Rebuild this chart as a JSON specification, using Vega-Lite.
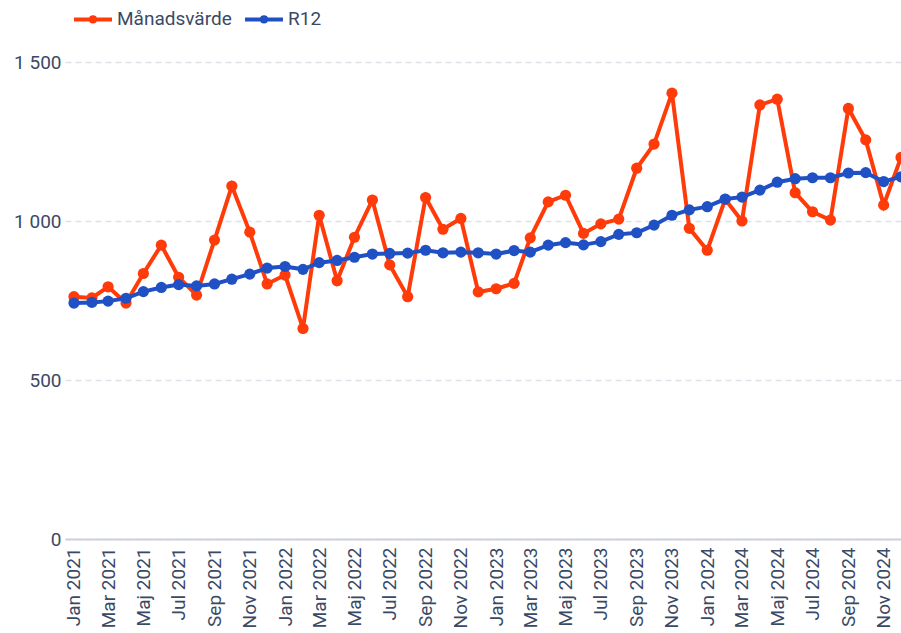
{
  "$schema": "https://vega.github.io/schema/vega-lite/v6.json",
  "width": 836,
  "height": 477,
  "autosize": {"type": "none"},
  "padding": {"left": 65, "top": 62, "right": 0, "bottom": 94},
  "config": {
    "view": {"stroke": null},
    "font": "Roboto",
    "axis": {"labelFont": "Roboto", "labelFontSize": 19, "labelColor": "#3a4a66"}
  },
  "datasets": {
    "rows": [
      {"m": "2021-01-01", "s": "Månadsvärde", "v": 762},
      {"m": "2021-02-01", "s": "Månadsvärde", "v": 758},
      {"m": "2021-03-01", "s": "Månadsvärde", "v": 793},
      {"m": "2021-04-01", "s": "Månadsvärde", "v": 742},
      {"m": "2021-05-01", "s": "Månadsvärde", "v": 835},
      {"m": "2021-06-01", "s": "Månadsvärde", "v": 924},
      {"m": "2021-07-01", "s": "Månadsvärde", "v": 823},
      {"m": "2021-08-01", "s": "Månadsvärde", "v": 767},
      {"m": "2021-09-01", "s": "Månadsvärde", "v": 940},
      {"m": "2021-10-01", "s": "Månadsvärde", "v": 1110},
      {"m": "2021-11-01", "s": "Månadsvärde", "v": 965},
      {"m": "2021-12-01", "s": "Månadsvärde", "v": 802},
      {"m": "2022-01-01", "s": "Månadsvärde", "v": 830},
      {"m": "2022-02-01", "s": "Månadsvärde", "v": 662},
      {"m": "2022-03-01", "s": "Månadsvärde", "v": 1018},
      {"m": "2022-04-01", "s": "Månadsvärde", "v": 812},
      {"m": "2022-05-01", "s": "Månadsvärde", "v": 949},
      {"m": "2022-06-01", "s": "Månadsvärde", "v": 1066},
      {"m": "2022-07-01", "s": "Månadsvärde", "v": 862},
      {"m": "2022-08-01", "s": "Månadsvärde", "v": 762},
      {"m": "2022-09-01", "s": "Månadsvärde", "v": 1074},
      {"m": "2022-10-01", "s": "Månadsvärde", "v": 974},
      {"m": "2022-11-01", "s": "Månadsvärde", "v": 1008},
      {"m": "2022-12-01", "s": "Månadsvärde", "v": 777},
      {"m": "2023-01-01", "s": "Månadsvärde", "v": 787},
      {"m": "2023-02-01", "s": "Månadsvärde", "v": 804},
      {"m": "2023-03-01", "s": "Månadsvärde", "v": 947},
      {"m": "2023-04-01", "s": "Månadsvärde", "v": 1060},
      {"m": "2023-05-01", "s": "Månadsvärde", "v": 1081},
      {"m": "2023-06-01", "s": "Månadsvärde", "v": 961},
      {"m": "2023-07-01", "s": "Månadsvärde", "v": 991},
      {"m": "2023-08-01", "s": "Månadsvärde", "v": 1006},
      {"m": "2023-09-01", "s": "Månadsvärde", "v": 1166},
      {"m": "2023-10-01", "s": "Månadsvärde", "v": 1242},
      {"m": "2023-11-01", "s": "Månadsvärde", "v": 1402},
      {"m": "2023-12-01", "s": "Månadsvärde", "v": 977},
      {"m": "2024-01-01", "s": "Månadsvärde", "v": 908},
      {"m": "2024-02-01", "s": "Månadsvärde", "v": 1068},
      {"m": "2024-03-01", "s": "Månadsvärde", "v": 1000},
      {"m": "2024-04-01", "s": "Månadsvärde", "v": 1365},
      {"m": "2024-05-01", "s": "Månadsvärde", "v": 1383},
      {"m": "2024-06-01", "s": "Månadsvärde", "v": 1089},
      {"m": "2024-07-01", "s": "Månadsvärde", "v": 1029},
      {"m": "2024-08-01", "s": "Månadsvärde", "v": 1003},
      {"m": "2024-09-01", "s": "Månadsvärde", "v": 1354},
      {"m": "2024-10-01", "s": "Månadsvärde", "v": 1255},
      {"m": "2024-11-01", "s": "Månadsvärde", "v": 1050},
      {"m": "2024-12-01", "s": "Månadsvärde", "v": 1200},
      {"m": "2021-01-01", "s": "R12", "v": 742},
      {"m": "2021-02-01", "s": "R12", "v": 744},
      {"m": "2021-03-01", "s": "R12", "v": 748},
      {"m": "2021-04-01", "s": "R12", "v": 757},
      {"m": "2021-05-01", "s": "R12", "v": 778},
      {"m": "2021-06-01", "s": "R12", "v": 791},
      {"m": "2021-07-01", "s": "R12", "v": 800},
      {"m": "2021-08-01", "s": "R12", "v": 796},
      {"m": "2021-09-01", "s": "R12", "v": 802},
      {"m": "2021-10-01", "s": "R12", "v": 817},
      {"m": "2021-11-01", "s": "R12", "v": 833},
      {"m": "2021-12-01", "s": "R12", "v": 852},
      {"m": "2022-01-01", "s": "R12", "v": 857},
      {"m": "2022-02-01", "s": "R12", "v": 848},
      {"m": "2022-03-01", "s": "R12", "v": 869},
      {"m": "2022-04-01", "s": "R12", "v": 876},
      {"m": "2022-05-01", "s": "R12", "v": 886},
      {"m": "2022-06-01", "s": "R12", "v": 896},
      {"m": "2022-07-01", "s": "R12", "v": 898},
      {"m": "2022-08-01", "s": "R12", "v": 899},
      {"m": "2022-09-01", "s": "R12", "v": 908},
      {"m": "2022-10-01", "s": "R12", "v": 900},
      {"m": "2022-11-01", "s": "R12", "v": 902},
      {"m": "2022-12-01", "s": "R12", "v": 900},
      {"m": "2023-01-01", "s": "R12", "v": 896},
      {"m": "2023-02-01", "s": "R12", "v": 907},
      {"m": "2023-03-01", "s": "R12", "v": 902},
      {"m": "2023-04-01", "s": "R12", "v": 924},
      {"m": "2023-05-01", "s": "R12", "v": 932},
      {"m": "2023-06-01", "s": "R12", "v": 925},
      {"m": "2023-07-01", "s": "R12", "v": 935},
      {"m": "2023-08-01", "s": "R12", "v": 958},
      {"m": "2023-09-01", "s": "R12", "v": 963},
      {"m": "2023-10-01", "s": "R12", "v": 987},
      {"m": "2023-11-01", "s": "R12", "v": 1018},
      {"m": "2023-12-01", "s": "R12", "v": 1035},
      {"m": "2024-01-01", "s": "R12", "v": 1045},
      {"m": "2024-02-01", "s": "R12", "v": 1069},
      {"m": "2024-03-01", "s": "R12", "v": 1075},
      {"m": "2024-04-01", "s": "R12", "v": 1097},
      {"m": "2024-05-01", "s": "R12", "v": 1122},
      {"m": "2024-06-01", "s": "R12", "v": 1133},
      {"m": "2024-07-01", "s": "R12", "v": 1136},
      {"m": "2024-08-01", "s": "R12", "v": 1136},
      {"m": "2024-09-01", "s": "R12", "v": 1151},
      {"m": "2024-10-01", "s": "R12", "v": 1152},
      {"m": "2024-11-01", "s": "R12", "v": 1124},
      {"m": "2024-12-01", "s": "R12", "v": 1139}
    ]
  },
  "data": {"name": "rows"},
  "encoding": {
    "x": {
      "field": "m",
      "type": "temporal",
      "title": null,
      "scale": {"type": "utc", "domain": [1608120000000, 1733011200000]},
      "axis": {
        "tickCount": {"interval": "month", "step": 2},
        "labelExpr": "['Jan','Feb','Mar','Apr','Maj','Jun','Jul','Aug','Sep','Okt','Nov','Dec'][utcmonth(datum.value)] + ' ' + utcyear(datum.value)",
        "labelAngle": -90,
        "labelPadding": 8,
        "labelOverlap": false,
        "labelFlush": false,
        "ticks": false,
        "grid": false,
        "domainColor": "#cdd2da",
        "domainWidth": 2
      }
    },
    "y": {
      "field": "v",
      "type": "quantitative",
      "title": null,
      "scale": {"domain": [0, 1500], "nice": false},
      "axis": {
        "values": [0, 500, 1000, 1500],
        "labelExpr": "replace(format(datum.value, ','), ',', ' ')",
        "domain": false,
        "ticks": false,
        "labelPadding": 4,
        "gridColor": "#dde2e8",
        "gridDash": [6, 4],
        "gridWidth": 1.5
      }
    },
    "color": {
      "field": "s",
      "type": "nominal",
      "scale": {"domain": ["Månadsvärde", "R12"], "range": ["#ff3b0a", "#1f50c4"]},
      "legend": {
        "title": null,
        "orient": "none",
        "legendX": 7,
        "legendY": -64,
        "direction": "horizontal",
        "padding": 0,
        "symbolType": "M-1,0L1,0M-0.11,0A0.11,0.11 0 1,0 0.11,0A0.11,0.11 0 1,0 -0.11,0",
        "symbolSize": 1444,
        "symbolStrokeWidth": 4,
        "symbolOpacity": 1,
        "labelFont": "Roboto",
        "labelFontSize": 19,
        "labelColor": "#3a4a66",
        "labelOffset": 3,
        "columnPadding": 5,
        "encode": {"symbols": {"update": {"fill": {"scale": "color", "field": "value"}, "stroke": {"scale": "color", "field": "value"}}}}
      }
    }
  },
  "layer": [
    {
      "transform": [{"filter": "datum.s === 'Månadsvärde'"}],
      "mark": {"type": "line", "strokeWidth": 4, "point": {"filled": true, "size": 125, "opacity": 1}}
    },
    {
      "transform": [{"filter": "datum.s === 'R12'"}],
      "mark": {"type": "line", "strokeWidth": 4, "point": {"filled": true, "size": 125, "opacity": 1}}
    }
  ]
}
